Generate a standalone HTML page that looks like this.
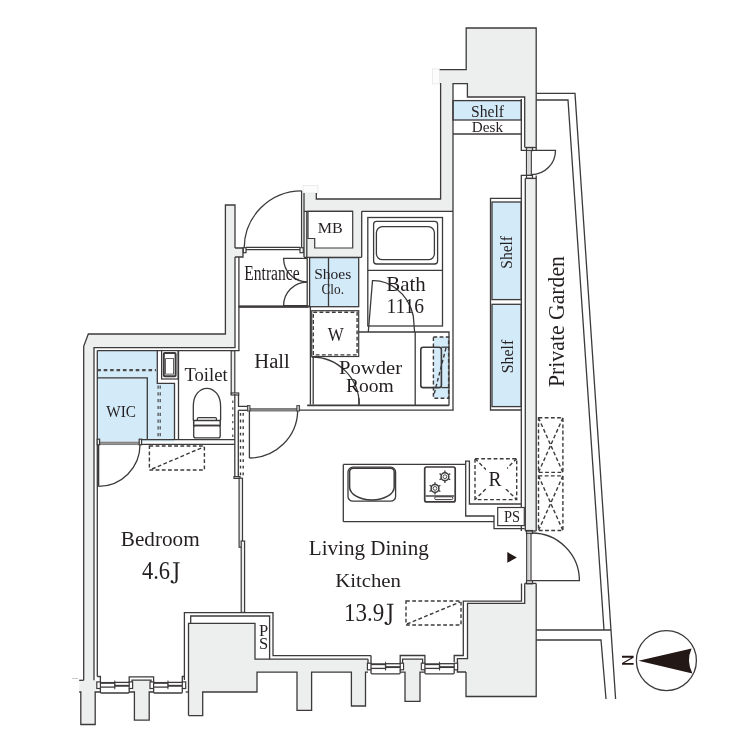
<!DOCTYPE html>
<html><head><meta charset="utf-8"><style>
html,body{margin:0;padding:0;background:#fff;width:750px;height:750px;overflow:hidden}
svg{display:block;will-change:transform}
.g{fill:#edeeee;stroke:none}
.bl{fill:#d3eaf8;stroke:none}
.l{fill:none;stroke:#3c3a3a;stroke-width:1.3}
.th{stroke-width:2}
.d{fill:none;stroke:#3c3a3a;stroke-width:1.4;stroke-dasharray:3.8 2.4}
.w{fill:#fff;stroke:#3c3a3a;stroke-width:1.2}
.wg{fill:#edeeee;stroke:#3c3a3a;stroke-width:1.2}
text{font-family:"Liberation Serif",serif;fill:#231f20}
</style></head><body>
<svg width="750" height="750" viewBox="0 0 750 750">
<polygon class="g" points="466.2,28 536.2,28 536.2,147.5 524.7,147.5 524.7,97 467.4,97 467.4,83.6 453,83.6 453,211.3 304,211.3 304,193 316.3,193 316.3,199 440.6,199 440.6,83.3 439.7,83.3 439.7,69.7 466.2,69.7" />
<rect class="" x="303" y="185.5" width="15" height="7.5" style="fill:#fcfcfc;stroke:#e2e2e2;stroke-width:0.6"/>
<rect class="" x="432.3" y="68.9" width="7.4" height="15" style="fill:#fcfcfc;stroke:#e2e2e2;stroke-width:0.6"/>
<rect class="g" x="303.5" y="205" width="58.2" height="52" />
<rect class="g" x="525.3" y="178.4" width="10.9" height="352.6" />
<rect class="g" x="524.7" y="583" width="11.5" height="21" />
<polygon class="g" points="467.5,603.4 536.2,603.4 536.2,696.5 466,696.5 466,672 457.4,672 457.4,658.7 467.5,658.7" />
<polygon class="g" points="88.3,334 225.4,334 225.4,205 235,205 235,347.7 94,347.7 94,680.3 96.5,680.3 96.5,692 95.2,692 95.2,724.5 80.8,724.5 80.8,692 79.2,692 79.2,680.3 83.7,680.3 83.7,346.3" />
<rect class="g" x="235" y="248" width="8" height="9" />
<polygon class="g" points="188.5,623.3 255,623.3 255,659.2 368,659.2 368,672.2 365.5,672.2 365.5,706 351.4,706 351.4,672.2 311.6,672.2 311.6,710.4 297,710.4 297,672.2 257,672.2 257,692 202.7,692 202.7,715.6 188.5,715.6" />
<rect class="g" x="132" y="680.2" width="19.2" height="11.6" />
<rect class="g" x="134.4" y="691" width="14.8" height="29.2" />
<rect class="g" x="405" y="660" width="15" height="12" />
<rect class="g" x="405" y="671" width="15" height="30.3" />
<rect class="bl" x="453" y="100.6" width="68.3" height="19.4" />
<rect class="bl" x="492" y="202" width="29.2" height="97.6" />
<rect class="bl" x="492" y="304.3" width="29.2" height="102.3" />
<rect class="bl" x="309.6" y="257.6" width="49.1" height="49.1" />
<polygon class="bl" points="97.3,350.6 157.3,350.6 157.3,383.4 174.5,383.4 174.5,441.6 97.3,441.6" />
<rect class="bl" x="433.4" y="337" width="15.2" height="61.2" />
<polyline class="l" points="439.7,69.7 466.2,69.7 466.2,28 536.2,28 536.2,150.4" />
<polyline class="l" points="524.7,147.3 524.7,97 467.4,97 467.4,83.6 453,83.6 453,410.2" />
<polyline class="l" points="440.6,83 440.6,199 316.3,199 316.3,193" />
<polyline class="l" points="304,193 304,257" />
<line class="l" x1="306.8" y1="211.3" x2="306.8" y2="257" />
<line class="l" x1="361.7" y1="211.3" x2="453" y2="211.3" />
<line class="l" x1="304" y1="211.3" x2="353" y2="211.3" />
<polygon class="w" points="308,211.3 352.7,211.3 352.7,248 314.7,248 314.7,238.5 308,238.5" />
<rect class="l" x="453" y="100.6" width="68.3" height="19.4" />
<line class="l" x1="453" y1="134" x2="521.3" y2="134" />
<polyline class="l" points="521.3,99 521.3,150.4 526.5,150.4" />
<rect class="w" x="526.5" y="147.6" width="6" height="3" />
<rect class="wg" x="526.5" y="150.4" width="4.8" height="25" />
<line class="l" x1="528.9" y1="150.4" x2="528.9" y2="175.4" style="stroke-width:0.5;stroke:#999"/>
<path class="l" d="M531.3,150.4 H555.5 A24.2,24.2 0 0 1 531.3,174.6"/>
<rect class="w" x="526.5" y="175.4" width="6" height="3" />
<polyline class="l" points="526.5,175.4 521.3,175.4 521.3,531" />
<polyline class="l" points="525.3,178.4 525.3,531" />
<line class="l" x1="536.2" y1="175.4" x2="536.2" y2="531" />
<line class="l" x1="524.7" y1="147.5" x2="536.2" y2="147.5" />
<line class="l" x1="525.3" y1="178.4" x2="536.2" y2="178.4" />
<polyline class="l" points="521.3,198.4 490.5,198.4 490.5,410 521.3,410" />
<rect class="l" x="492" y="202" width="29.2" height="97.6" />
<rect class="l" x="492" y="304.3" width="29.2" height="102.3" />
<rect class="w" x="526.5" y="530.5" width="6" height="3" />
<rect class="wg" x="526.7" y="533.3" width="4.3" height="47.5" />
<line class="l" x1="528.85" y1="533.3" x2="528.85" y2="580.8" style="stroke-width:0.5;stroke:#999"/>
<rect class="w" x="526.5" y="580.8" width="6" height="3" />
<path class="l" d="M531.8,580.6 H579.4 A47.6,47.6 0 0 0 531.8,533"/>
<line class="l" x1="525.3" y1="531" x2="536.2" y2="531" />
<line class="l" x1="524.7" y1="583.4" x2="536.2" y2="583.4" />
<polygon points="507.3,552 507.3,562.8 516.8,557.4" fill="#231815"/>
<polyline class="l" points="536.2,583.4 536.2,696.5 466,696.5 466,672" />
<polyline class="l" points="521.5,583.4 521.5,601.2 463.3,601.2 463.3,655.5 454.2,655.5 454.2,662" />
<polyline class="l" points="524.7,583.4 524.7,603.4 467.5,603.4 467.5,658.7 457.4,658.7 457.4,672 466,672" />
<polyline class="l" points="536.2,93.4 575,93.4 615.6,699" />
<polyline class="l" points="536.2,100 568,100 604,630" />
<line class="l" x1="536.2" y1="630" x2="611" y2="630" />
<polyline class="l" points="536.2,640 601,640 606,699" />
<g class="d">
<rect class="d" x="538.5" y="417.8" width="24.4" height="54.6" />
<path class="d" d="M538.5,417.8 L562.9,472.4 M562.9,417.8 L538.5,472.4"/>
<rect class="d" x="538.5" y="475.9" width="24.4" height="54.6" />
<path class="d" d="M538.5,475.9 L562.9,530.5 M562.9,475.9 L538.5,530.5"/>
</g>
<polyline class="l" points="83.7,680.3 83.7,346.3 88.3,334 225.4,334 225.4,205 235,205 235,248" />
<polyline class="l" points="235,257 235,347.7 94,347.7 94,680.3" />
<line class="l" x1="97.3" y1="350.6" x2="97.3" y2="676.5" />
<polyline class="l" points="79.2,680.3 83.7,680.3" />
<polyline class="l" points="79.2,692 80.8,692 80.8,724.5 95.2,724.5 95.2,692 100.4,692" />
<line class="l" x1="72" y1="678.5" x2="78" y2="678.5" style="stroke:#bbb;stroke-width:0.8"/>
<polyline class="l" points="235,248 243,248 243,257 235,257" />
<line class="l" x1="238.9" y1="257" x2="238.9" y2="350.8" />
<line class="l" x1="301.6" y1="190.8" x2="301.6" y2="247.5" />
<path class="l" d="M301.6,190.8 A57.4,57.4 0 0 0 244.2,248"/>
<line class="l" x1="246" y1="247.3" x2="300" y2="247.3" />
<line class="l" x1="246" y1="249.6" x2="300" y2="249.6" />
<rect class="w" x="243.3" y="247.7" width="2.7" height="5" />
<rect class="w" x="300" y="247.7" width="3.3" height="5" />
<line class="l th" x1="238.6" y1="306.6" x2="309.6" y2="306.6" />
<line class="l" x1="307.2" y1="258" x2="307.2" y2="306" />
<rect class="l" x="309.6" y="257.6" width="49.1" height="49.1" />
<line class="l" x1="328.5" y1="257.6" x2="328.5" y2="306.7" />
<path class="l" d="M307,258.4 H283.6 A23.4,23.4 0 0 0 307,281.8"/>
<path class="l" d="M307,305.6 H283.6 A23.4,23.4 0 0 1 307,282.2"/>
<line class="l" x1="97.3" y1="350.6" x2="239.5" y2="350.6" />
<polyline class="l" points="157.3,350.6 157.3,383.4 174.5,383.4 174.5,440" />
<polyline class="l" points="97.3,377.8 147.3,377.8 147.3,440" />
<line class="l" x1="178.5" y1="350.6" x2="178.5" y2="440" />
<rect class="w" x="161.6" y="350.6" width="16.4" height="28.4" />
<rect class="l" x="163.8" y="353" width="11.8" height="23.3" rx="1" style="stroke-width:2"/>
<rect class="w" x="165.6" y="358.6" width="8" height="15.5" style="stroke-width:0.8"/>
<line x1="97.3" y1="370.2" x2="156" y2="370.2" class="d" style="stroke-width:2.3;stroke:#4d4b4b;stroke-dasharray:3.6 2.8"/>
<line class="d" x1="158.1" y1="385.5" x2="158.1" y2="440" style="stroke-width:1.1;stroke-dasharray:3.2 3.6"/>
<line class="d" x1="160.2" y1="385.5" x2="160.2" y2="440" style="stroke-width:1.1;stroke-dasharray:3.2 3.6"/>
<path class="l" d="M193.3,420.5 V406 C193.3,395.5 199.5,388.3 206.9,388.3 C214.3,388.3 220.6,395.5 220.6,406 V420.5"/>
<rect class="w" x="197.4" y="417.6" width="19" height="3.6" rx="1"/>
<rect class="w" x="193.7" y="420.5" width="26.5" height="5" style="stroke-width:1.5"/>
<rect class="l" x="193.7" y="425.5" width="26.5" height="12.4" rx="2"/>
<rect class="wg" x="231.2" y="350.8" width="3.6" height="43.2" />
<rect class="w" x="231.2" y="393" width="7.5" height="2" />
<polyline class="l" points="238.5,395 238.5,406.3 247.7,406.3" />
<line x1="232.8" y1="400.5" x2="232.8" y2="438.7" class="d" style="stroke-width:1.1;stroke-dasharray:2.4 4.4"/>
<rect class="" x="99.6" y="442" width="39.6" height="2.8" style="fill:#959595;stroke:#555;stroke-width:0.5"/>
<line class="l" x1="141.6" y1="439.6" x2="234.8" y2="439.6" />
<line class="l" x1="141.6" y1="444.4" x2="234.8" y2="444.4" />
<rect class="wg" x="97.2" y="439.2" width="2.4" height="5.6" />
<rect class="wg" x="139.2" y="439.2" width="2.4" height="5.6" />
<line class="l" x1="234.8" y1="394" x2="234.8" y2="476.6" />
<line class="l" x1="238.3" y1="410.5" x2="238.3" y2="476.6" />
<g>
<line class="d" x1="240.5" y1="413" x2="240.5" y2="476.6" style="stroke-width:1.4;stroke-dasharray:2.8 3.8"/>
<line class="d" x1="243.2" y1="413" x2="243.2" y2="476.6" style="stroke-width:1.4;stroke-dasharray:2.8 3.8"/>
</g>
<rect class="w" x="234" y="476.6" width="6" height="1.8" />
<rect class="wg" x="239.1" y="478.2" width="3.4" height="69" />
<rect class="wg" x="241.2" y="541" width="3.4" height="71.4" />
<line class="l" x1="98.4" y1="444.8" x2="98.4" y2="486.4" style="stroke-width:1.8"/>
<path class="l" d="M98.4,486.4 A41.6,41.6 0 0 0 140,444.8"/>
<rect class="d" x="149.4" y="446" width="55" height="24" />
<line class="d" x1="152" y1="469" x2="203.6" y2="447" />
<line class="l th" x1="238.9" y1="306.8" x2="308.2" y2="306.8" />
<line class="l" x1="310.4" y1="306.8" x2="310.4" y2="404.6" />
<line class="l" x1="313.2" y1="310.7" x2="313.2" y2="404.6" />
<rect class="" x="250" y="408.3" width="46.8" height="2.8" style="fill:#858585;stroke:#555;stroke-width:0.5"/>
<rect class="" x="247.4" y="405.6" width="2.6" height="5.4" style="fill:#bbb;stroke:#3c3a3a;stroke-width:0.9"/>
<rect class="" x="296.8" y="405.6" width="2.8" height="5.4" style="fill:#bbb;stroke:#3c3a3a;stroke-width:0.9"/>
<line class="l" x1="238.3" y1="410.3" x2="247.4" y2="410.3" />
<line class="l" x1="249.4" y1="411" x2="249.4" y2="458" />
<path class="l" d="M249.4,458 A48.3,48.3 0 0 0 297.7,411"/>
<line class="l" x1="361.7" y1="211.3" x2="361.7" y2="257.3" />
<line class="l" x1="304" y1="257.3" x2="361.7" y2="257.3" />
<rect class="l" x="367.8" y="217.5" width="74.7" height="108.5" />
<rect class="l" x="373.6" y="221.3" width="64" height="42.7" rx="3"/>
<rect class="l" x="376.4" y="226.7" width="58" height="33" rx="6"/>
<line class="l" x1="367.8" y1="270.4" x2="442.5" y2="270.4" />
<path class="l" d="M368.3,332 L372.5,280.7 C388,280 408,292 413.3,316 L414.6,332"/>
<rect class="w" x="311.7" y="310.7" width="47" height="45.8" />
<rect class="d" x="313.3" y="312.3" width="43.8" height="42.6" />
<polyline class="l" points="358.7,332 449,332 449,405.5" />
<line class="l" x1="415.2" y1="332" x2="415.2" y2="405.5" />
<line class="l" x1="307.2" y1="405.4" x2="449" y2="405.4" style="stroke-width:1.7"/>
<line class="l" x1="299.2" y1="410.2" x2="453.6" y2="410.2" />
<path class="l" d="M311.7,357 A47.5,47.5 0 0 1 359.2,404.5"/>
<line class="l" x1="358.9" y1="398" x2="358.9" y2="405" />
<rect class="d" x="433.4" y="337" width="15.2" height="61.2" />
<rect class="l" x="420.8" y="347.2" width="20.6" height="40.4" rx="2.4" style="stroke-width:1.6"/>
<line class="l" x1="441.4" y1="347.2" x2="449.4" y2="347.2" />
<line class="l" x1="441.4" y1="387.6" x2="449.4" y2="387.6" />
<line class="d" x1="446" y1="347.8" x2="434" y2="394.6" />
<polyline class="l" points="343.3,464.4 465.7,464.4" />
<line class="l" x1="343.3" y1="464.4" x2="343.3" y2="521.7" />
<line class="l" x1="343.3" y1="521.7" x2="494" y2="521.7" />
<polyline class="l" points="465.7,464.4 465.7,461.2 469.4,461.2 469.4,504 521.3,504" />
<polyline class="l" points="465.7,464.4 465.7,516 494,516 494,528.6 524.7,528.6" />
<rect class="w" x="497.7" y="507.5" width="26.6" height="18.1" />
<rect class="l" x="348" y="467.2" width="47.6" height="34" rx="4.8"/>
<path class="l" style="stroke-width:1.5" d="M349.6,487 V472 Q349.6,468.2 353.4,468.2 H390.4 Q394.2,468.2 394.2,472 V487 A22.3,13 0 0 1 349.6,487 Z"/>
<rect class="l" x="424.7" y="467" width="30.5" height="34.9" rx="2" style="stroke-width:1.7"/>
<line class="l" x1="425.6" y1="496" x2="454.2" y2="496" style="stroke-width:1.4"/>
<rect class="l" x="434.7" y="496.8" width="18.1" height="2.8" rx="1.2" style="stroke-width:1"/>
<circle class="l" cx="444.9" cy="476.7" r="3.9" style="stroke-width:1.5"/><circle class="l" cx="444.9" cy="476.7" r="1.9" style="stroke-width:0.9"/>
<path class="l" style="stroke-width:1.3" d="M444.90,472.80 L444.90,470.50 M441.52,474.75 L439.53,473.60 M441.52,478.65 L439.53,479.80 M444.90,480.60 L444.90,482.90 M448.28,478.65 L450.27,479.80 M448.28,474.75 L450.27,473.60 "/>
<circle class="l" cx="435" cy="488.4" r="3.9" style="stroke-width:1.5"/><circle class="l" cx="435" cy="488.4" r="1.9" style="stroke-width:0.9"/>
<path class="l" style="stroke-width:1.3" d="M435.00,484.50 L435.00,482.20 M431.62,486.45 L429.63,485.30 M431.62,490.35 L429.63,491.50 M435.00,492.30 L435.00,494.60 M438.38,490.35 L440.37,491.50 M438.38,486.45 L440.37,485.30 "/>
<rect class="d" x="475" y="458.7" width="41.7" height="40.9" />
<line class="d" x1="475" y1="458.7" x2="516.7" y2="499.6" />
<line class="d" x1="516.7" y1="458.7" x2="475" y2="499.6" />
<rect class="" x="486" y="467" width="21" height="22" fill="#fff"/>
<rect class="d" x="406" y="601" width="55" height="24" />
<line class="d" x1="407" y1="624" x2="460" y2="602" />
<polyline class="l" points="184.4,680 184.4,612.6 273,612.6 273,655.6 371,655.6" />
<polyline class="l" points="190.7,623.3 190.7,616 269.6,616 269.6,659.2" />
<polyline class="l" points="188.5,715.6 188.5,623.3 255,623.3 255,659.2 368.2,659.2" />
<polyline class="l" points="368,672.2 365.5,672.2 365.5,706 351.4,706 351.4,672.2 311.6,672.2 311.6,710.4 297,710.4 297,672.2 257,672.2 257,692 202.7,692 202.7,715.6 188.5,715.6" />
<line class="l" x1="185.7" y1="692" x2="188.5" y2="692" />
<rect class="w" x="96.80000000000001" y="681.9" width="3.6" height="6.6" />
<rect class="w" x="129.2" y="681.9" width="3.4" height="6.6" />
<path class="l" d="M100.4,688.5 V692 Q100.4,693 101.4,693 H128.2 Q129.2,693 129.2,692 V688.5"/>
<line class="l" x1="100.4" y1="682.9" x2="114.8" y2="682.9" style="stroke-width:1.9"/>
<line class="l" x1="100.4" y1="687.1" x2="114.8" y2="687.1" />
<line class="l" x1="114.8" y1="682.4" x2="129.2" y2="682.4" />
<line class="l" x1="114.8" y1="685.8" x2="129.2" y2="685.8" style="stroke-width:1.9"/>
<ellipse cx="114.8" cy="684.9" rx="0.7" ry="4.6" fill="#3c3a3a"/>
<rect class="w" x="150.0" y="681.9" width="3.6" height="6.6" />
<rect class="w" x="182.3" y="681.9" width="3.4" height="6.6" />
<path class="l" d="M153.6,688.5 V692 Q153.6,693 154.6,693 H181.3 Q182.3,693 182.3,692 V688.5"/>
<line class="l" x1="153.6" y1="682.9" x2="167.95" y2="682.9" style="stroke-width:1.9"/>
<line class="l" x1="153.6" y1="687.1" x2="167.95" y2="687.1" />
<line class="l" x1="167.95" y1="682.4" x2="182.3" y2="682.4" />
<line class="l" x1="167.95" y1="685.8" x2="182.3" y2="685.8" style="stroke-width:1.9"/>
<ellipse cx="167.95" cy="684.9" rx="0.7" ry="4.6" fill="#3c3a3a"/>
<polyline class="l" points="129.2,682 129.2,676.8 153.6,676.8 153.6,682" />
<polyline class="l" points="132,682 132,680.2 151,680.2 151,682" />
<polyline class="l" points="129.2,692 134.4,692 134.4,720.2 149.2,720.2 149.2,692 153.6,692" />
<polyline class="l" points="97.3,676.5 100.4,676.5 100.4,682" />
<polyline class="l" points="184.4,676.5 182.3,676.5 182.3,682" />
<rect class="w" x="367.4" y="663.2" width="3.6" height="6.6" />
<rect class="w" x="400.2" y="663.2" width="3.4" height="6.6" />
<path class="l" d="M371,669.8000000000001 V672.8 Q371,673.8 372,673.8 H399.2 Q400.2,673.8 400.2,672.8 V669.8000000000001"/>
<line class="l" x1="371" y1="664.2" x2="385.6" y2="664.2" style="stroke-width:1.9"/>
<line class="l" x1="371" y1="668.4000000000001" x2="385.6" y2="668.4000000000001" />
<line class="l" x1="385.6" y1="663.7" x2="400.2" y2="663.7" />
<line class="l" x1="385.6" y1="667.1" x2="400.2" y2="667.1" style="stroke-width:1.9"/>
<ellipse cx="385.6" cy="666.2" rx="0.7" ry="4.6" fill="#3c3a3a"/>
<rect class="w" x="421.29999999999995" y="663.2" width="3.6" height="6.6" />
<rect class="w" x="454.2" y="663.2" width="3.4" height="6.6" />
<path class="l" d="M424.9,669.8000000000001 V672.8 Q424.9,673.8 425.9,673.8 H453.2 Q454.2,673.8 454.2,672.8 V669.8000000000001"/>
<line class="l" x1="424.9" y1="664.2" x2="439.54999999999995" y2="664.2" style="stroke-width:1.9"/>
<line class="l" x1="424.9" y1="668.4000000000001" x2="439.54999999999995" y2="668.4000000000001" />
<line class="l" x1="439.54999999999995" y1="663.7" x2="454.2" y2="663.7" />
<line class="l" x1="439.54999999999995" y1="667.1" x2="454.2" y2="667.1" style="stroke-width:1.9"/>
<ellipse cx="439.54999999999995" cy="666.2" rx="0.7" ry="4.6" fill="#3c3a3a"/>
<polyline class="l" points="400.2,663.2 400.2,655.5 424.9,655.5 424.9,663.2" />
<polyline class="l" points="402.6,663 402.6,659.2 422.6,659.2 422.6,663" />
<polyline class="l" points="400.2,672.2 405,672.2 405,701.3 420,701.3 420,672.2 424.9,672.2" />
<polyline class="l" points="368,659.2 368,663.2" />
<line class="l" x1="371" y1="655.6" x2="371" y2="663.2" />
<circle cx="666.4" cy="660.6" r="30" fill="none" stroke="#3c3a3a" stroke-width="1.3"/>
<path d="M638.5,660.8 L691.6,648.5 Q686,660.8 692.4,673.6 Z" fill="#231815"/>
<path d="M622,655.8 H633.6 V657.7 L624.4,662.9 H633.6 V664.8 H622 V662.9 L631.2,657.7 H622 Z" fill="#231815"/>
<text x="471" y="117" font-size="16" textLength="33" lengthAdjust="spacingAndGlyphs" >Shelf</text>
<text x="471.8" y="131.7" font-size="15" textLength="31.2" lengthAdjust="spacingAndGlyphs" >Desk</text>
<text x="317.8" y="233.3" font-size="15.6" textLength="25" lengthAdjust="spacingAndGlyphs" >MB</text>
<text x="244.3" y="280" font-size="20" textLength="55.3" lengthAdjust="spacingAndGlyphs" >Entrance</text>
<text x="314.2" y="279.2" font-size="15.2" textLength="37.1" lengthAdjust="spacingAndGlyphs" >Shoes</text>
<text x="321.5" y="294" font-size="15.2" textLength="22.5" lengthAdjust="spacingAndGlyphs" >Clo.</text>
<text x="386.3" y="291.3" font-size="21" textLength="39.5" lengthAdjust="spacingAndGlyphs" >Bath</text>
<text x="386.5" y="313.2" font-size="21" textLength="37.6" lengthAdjust="spacingAndGlyphs" >1116</text>
<text x="327.7" y="340.5" font-size="18.5" textLength="16" lengthAdjust="spacingAndGlyphs" >W</text>
<text x="254.3" y="368" font-size="20.5" textLength="35.5" lengthAdjust="spacingAndGlyphs" >Hall</text>
<text x="184.4" y="381" font-size="19.5" textLength="43.2" lengthAdjust="spacingAndGlyphs" >Toilet</text>
<text x="339" y="373.6" font-size="19.5" textLength="63" lengthAdjust="spacingAndGlyphs" >Powder</text>
<text x="345.9" y="392" font-size="19.5" textLength="47.8" lengthAdjust="spacingAndGlyphs" >Room</text>
<text x="106.3" y="416.7" font-size="15.7" textLength="29.7" lengthAdjust="spacingAndGlyphs" >WIC</text>
<text x="120.8" y="546" font-size="20.5" textLength="78.8" lengthAdjust="spacingAndGlyphs" >Bedroom</text>
<text x="142" y="578.7" font-size="24.5" textLength="28.1" lengthAdjust="spacingAndGlyphs" >4.6</text>
<path transform="translate(172.9,562.2) scale(1,1.0)" fill="#231f20" d="M0,0 H6.7 V0.95 H4.75 V16.5 C4.75,19.8 3.0,21.3 0.8,21.3 C-0.9,21.3 -2.3,20.6 -2.3,19.4 C-2.3,18.6 -1.7,18.1 -1.0,18.1 C-0.1,18.1 0.25,18.8 0.45,19.5 C0.65,20.1 0.95,20.4 1.45,20.4 C2.25,20.4 2.65,19.4 2.65,17.4 V0.95 H0 Z"/>
<text x="308.8" y="555" font-size="20" textLength="120" lengthAdjust="spacingAndGlyphs" >Living Dining</text>
<text x="335.2" y="587" font-size="19.5" textLength="65.8" lengthAdjust="spacingAndGlyphs" >Kitchen</text>
<text x="344" y="621.2" font-size="25" textLength="40.3" lengthAdjust="spacingAndGlyphs" >13.9</text>
<path transform="translate(386.8,603.8) scale(1,0.99)" fill="#231f20" d="M0,0 H6.7 V0.95 H4.75 V16.5 C4.75,19.8 3.0,21.3 0.8,21.3 C-0.9,21.3 -2.3,20.6 -2.3,19.4 C-2.3,18.6 -1.7,18.1 -1.0,18.1 C-0.1,18.1 0.25,18.8 0.45,19.5 C0.65,20.1 0.95,20.4 1.45,20.4 C2.25,20.4 2.65,19.4 2.65,17.4 V0.95 H0 Z"/>
<text x="488.4" y="486" font-size="20.5" textLength="13" lengthAdjust="spacingAndGlyphs" >R</text>
<text x="504" y="522" font-size="16" textLength="16" lengthAdjust="spacingAndGlyphs" >PS</text>
<text x="259" y="636" font-size="16.5" >P</text>
<text x="259" y="649" font-size="16.5" >S</text>
<text transform="translate(512,268.7) rotate(-90)" font-size="16" textLength="32.7" lengthAdjust="spacingAndGlyphs">Shelf</text>
<text transform="translate(513,373.3) rotate(-90)" font-size="16" textLength="33.6" lengthAdjust="spacingAndGlyphs">Shelf</text>
<text transform="translate(563.5,387) rotate(-90)" font-size="23.5" textLength="131" lengthAdjust="spacingAndGlyphs">Private Garden</text>
</svg>
</body></html>
